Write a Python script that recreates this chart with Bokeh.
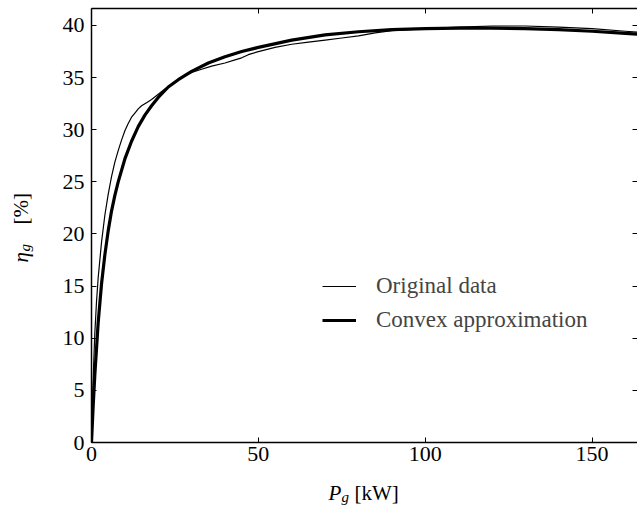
import math
from bokeh.plotting import figure
from bokeh.layouts import column, row
from bokeh.models import Range1d, LinearAxis, FixedTicker, Legend, LegendItem, Label
from bokeh.embed import file_html
from bokeh.resources import INLINE

# ---- data ----
power_orig = [0, 0.3, 0.7, 1, 1.5, 2, 3, 4, 5, 6, 7, 8, 9, 10, 11, 12, 13, 14, 15, 16.5,
              18, 20, 22, 25, 28, 30, 33, 36, 40, 43, 45, 47, 50, 55, 60, 65, 70, 75, 80,
              85, 90, 95, 100, 110, 120, 130, 140, 150, 160, 166]
eff_orig = [0, 4, 8, 10.5, 13.5, 15.8, 19.2, 21.8, 23.8, 25.5, 26.9, 28.0, 29.0, 29.9,
            30.6, 31.2, 31.6, 32.0, 32.3, 32.6, 32.9, 33.4, 33.9, 34.6, 35.2, 35.5, 35.8,
            36.1, 36.4, 36.7, 36.9, 37.2, 37.5, 37.9, 38.2, 38.4, 38.6, 38.8, 39.0, 39.3,
            39.5, 39.6, 39.7, 39.85, 39.95, 39.95, 39.85, 39.7, 39.45, 39.3]

power_convex = [0, 0.5, 1, 2, 3, 4, 5, 6, 7, 8, 10, 12, 14, 16, 18, 20, 23, 26, 30, 35,
                40, 45, 50, 60, 70, 80, 90, 100, 110, 120, 130, 140, 150, 160, 166]
eff_convex = [0, 3.5, 6.5, 11.5, 15.2, 18, 20.3, 22.2, 23.7, 25.0, 27.2, 28.9, 30.3, 31.4,
              32.3, 33.1, 34.1, 34.8, 35.6, 36.4, 37.0, 37.5, 37.9, 38.6, 39.1, 39.4, 39.6,
              39.7, 39.75, 39.75, 39.7, 39.6, 39.45, 39.25, 39.1]

x_ticks = [0, 50, 100, 150]
y_ticks = [0, 5, 10, 15, 20, 25, 30, 35, 40]
legend_labels = ["Original data", "Convex approximation"]

FONT = "Liberation Serif"
TICK_SIZE = "22px"

p = figure(width=597, height=475, output_backend="svg", toolbar_location=None,
           x_range=Range1d(0, 163.6), y_range=Range1d(0, 41.63),
           min_border_left=51, min_border_right=0, min_border_top=8, min_border_bottom=33)
p.frame_align = False
p.outline_line_color = None
p.xgrid.visible = False
p.ygrid.visible = False
p.background_fill_color = "white"
p.border_fill_color = "white"


def style_axis(ax, ticks, labels=True, line=True):
    ax.ticker = FixedTicker(ticks=ticks)
    ax.major_tick_in = 5
    ax.major_tick_out = 0
    ax.minor_tick_line_color = None
    ax.major_tick_line_color = "black"
    ax.major_tick_line_width = 1
    ax.axis_line_color = "black" if line else None
    ax.axis_line_width = 1.5
    if labels:
        ax.major_label_text_font = FONT
        ax.major_label_text_font_size = TICK_SIZE
        ax.major_label_text_color = "black"
    else:
        ax.major_label_text_font_size = "1px"
        ax.major_label_text_color = None
        ax.major_label_standoff = 0
    ax.axis_label = None


style_axis(p.xaxis[0], x_ticks)
p.xaxis[0].major_label_standoff = 4
style_axis(p.yaxis[0], y_ticks)
p.yaxis[0].major_label_standoff = 7

top_axis = LinearAxis()
style_axis(top_axis, x_ticks, labels=False, line=True)
p.add_layout(top_axis, "above")
right_axis = LinearAxis()
style_axis(right_axis, y_ticks, labels=False, line=False)
p.add_layout(right_axis, "right")

r_orig = p.line(power_orig, eff_orig, line_color="black", line_width=1.2)
r_conv = p.line(power_convex, eff_convex, line_color="black", line_width=3.2)

legend = Legend(items=[LegendItem(label=legend_labels[0], renderers=[r_orig]),
                       LegendItem(label=legend_labels[1], renderers=[r_conv])],
                location=(231, 107), padding=0, margin=0, spacing=4,
                glyph_width=34, glyph_height=30, label_height=30, label_standoff=20,
                border_line_color=None, background_fill_alpha=0,
                label_text_font=FONT, label_text_font_size="23px",
                label_text_baseline="middle")
p.add_layout(legend, "center")


def blank_fig(w, h):
    f = figure(width=w, height=h, output_backend="svg", toolbar_location=None,
               x_range=Range1d(0, w), y_range=Range1d(0, h),
               x_axis_location=None, y_axis_location=None,
               min_border_left=0, min_border_right=0, min_border_top=0, min_border_bottom=0)
    f.frame_align = False
    f.grid.visible = False
    f.outline_line_color = None
    f.background_fill_color = "white"
    f.border_fill_color = "white"
    return f


def lab(f, x, y, text, italic=False, size="21px", angle=0.0):
    f.add_layout(Label(x=x, y=y, x_units="screen", y_units="screen", text=text,
                       text_font=FONT, text_font_style="italic" if italic else "normal",
                       text_font_size=size, text_color="black", angle=angle,
                       text_align="left", text_baseline="alphabetic"))


# y title panel: eta_g [%] (rotated)
yfig = blank_fig(40, 475)
half_pi = math.pi / 2
lab(yfig, 20, 213, "η", italic=True, angle=half_pi)
lab(yfig, 24, 224, "g", italic=True, size="15px", angle=half_pi)
lab(yfig, 20, 251, "[%]", angle=half_pi)

# x title panel: P_g [kW]
xfig = blank_fig(637, 33)
lab(xfig, 328, 16, "P", italic=True)
lab(xfig, 341, 12, "g", italic=True, size="15px")
lab(xfig, 354, 16, "[kW]")

layout = column(row(yfig, p, spacing=0), xfig, spacing=0)
open("out.html", "w").write(file_html(layout, INLINE))
